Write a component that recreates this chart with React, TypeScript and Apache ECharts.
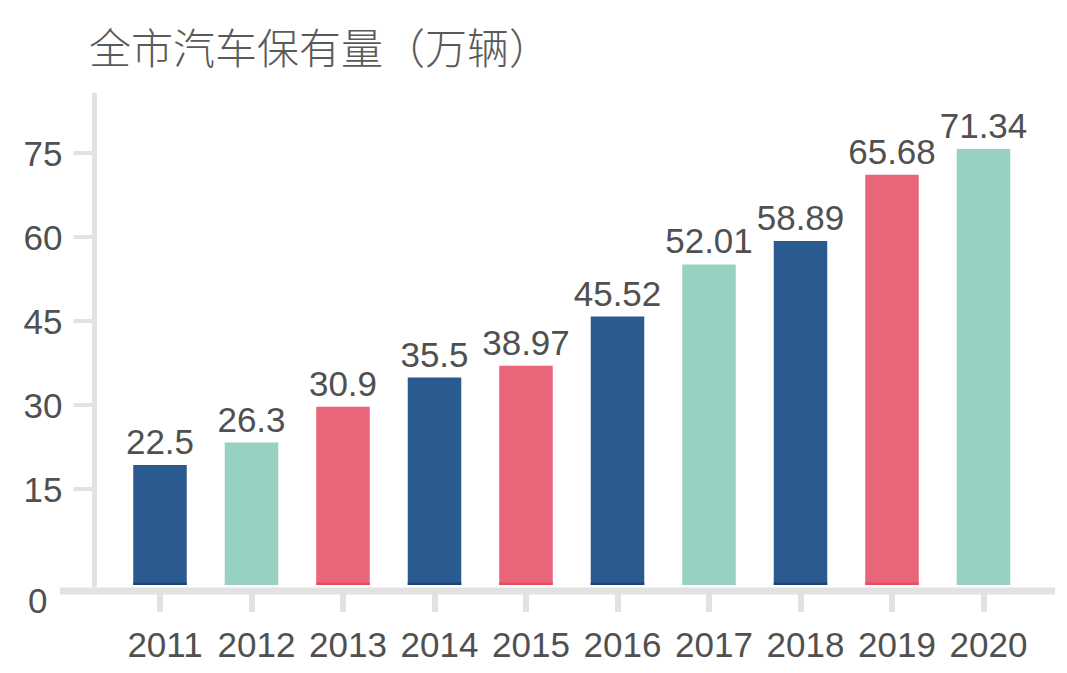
import React, { useEffect, useRef } from "react";
import * as echarts from "echarts";

const title = "全市汽车保有量（万辆）";
const years = ["2011", "2012", "2013", "2014", "2015", "2016", "2017", "2018", "2019", "2020"];
// bar heights as drawn against the axis
const barHeights = [19.3, 23.3, 29.7, 34.9, 37.0, 45.8, 55.1, 59.3, 71.1, 75.7];
// values printed above the bars
const printedValues = ["22.5", "26.3", "30.9", "35.5", "38.97", "45.52", "52.01", "58.89", "65.68", "71.34"];
const barColors = ["#2a5a8f", "#98d1c2", "#e9657a", "#2a5a8f", "#e9657a", "#2a5a8f", "#98d1c2", "#2a5a8f", "#e9657a", "#98d1c2"];
const barEdgeColors = ["#1f4476", "#98d1c2", "#e84a60", "#1f4476", "#e84a60", "#1f4476", "#98d1c2", "#1f4476", "#e84a60", "#98d1c2"];
const yTicks = [15, 30, 45, 60, 75];
const yMin = -2.14;
const yMax = 85.36;

export default function App() {
  const ref = useRef<HTMLDivElement>(null);
  useEffect(() => {
    if (!ref.current) return;
    const chart = echarts.init(ref.current, null, { renderer: "svg" });
    const axisGray = "#e2e2e2";
    const textGray = "#505050";
    const barW = 53.5;
    chart.setOption({
      animation: false,
      backgroundColor: "#ffffff",
      title: {
        text: title,
        left: 84,
        top: 19,
        textStyle: {
          fontFamily: "Noto Sans CJK SC",
          fontSize: 42,
          fontWeight: 300,
          color: "#5a5a5a",
        },
      },
      grid: { left: 114.25, right: 37.75, top: 95, bottom: 88 },
      xAxis: {
        type: "category",
        data: years,
        offset: 6,
        axisLine: { show: false, onZero: false },
        axisTick: {
          show: true,
          alignWithLabel: true,
          length: 21,
          lineStyle: { color: axisGray, width: 6 },
        },
        axisLabel: {
          interval: 0,
          margin: 36,
          fontFamily: "Liberation Sans",
          fontSize: 35,
          color: textGray,
          padding: [0, 0, 0, 10],
        },
      },
      yAxis: {
        type: "value",
        min: yMin,
        max: yMax,
        offset: 19.75,
        splitLine: { show: false },
        axisLine: { show: true, lineStyle: { color: axisGray, width: 5 } },
        axisTick: {
          show: true,
          length: 21,
          customValues: yTicks,
          lineStyle: { color: axisGray, width: 4 },
        },
        axisLabel: {
          margin: 32,
          customValues: [yMin, ...yTicks],
          fontFamily: "Liberation Sans",
          fontSize: 35,
          color: textGray,
          formatter: (v: number) => (v < 0 ? "{zero|0}" : String(v)),
          rich: {
            zero: {
              fontFamily: "Liberation Sans",
              fontSize: 35,
              color: textGray,
              padding: [30, 15, 0, 0],
            },
          },
        },
      },
      graphic: [
        {
          type: "line",
          z: 0,
          shape: { x1: 60, y1: 591, x2: 1055, y2: 591 },
          style: { stroke: axisGray, lineWidth: 7 },
        },
      ],
      series: [
        {
          type: "custom",
          z: 3,
          encode: { x: 0, y: 1 },
          data: barHeights.map((v, i) => [i, v]),
          renderItem: (params: any, api: any) => {
            const idx = api.value(0);
            const top = api.coord([idx, api.value(1)]);
            const base = api.coord([idx, yMin]);
            const h = base[1] - top[1];
            return {
              type: "group",
              children: [
                {
                  type: "rect",
                  shape: { x: top[0] - barW / 2, y: top[1], width: barW, height: h },
                  style: { fill: barColors[idx] },
                },
                {
                  type: "rect",
                  shape: { x: top[0] - barW / 2, y: base[1] - 2.5, width: barW, height: 2.5 },
                  style: { fill: barEdgeColors[idx] },
                },
                {
                  type: "text",
                  x: top[0],
                  y: top[1] - 6,
                  style: {
                    text: printedValues[idx],
                    fontFamily: "Liberation Sans",
                    fontSize: 35,
                    fill: textGray,
                    align: "center",
                    verticalAlign: "bottom",
                  },
                },
              ],
            };
          },
        },
      ],
    });
    return () => chart.dispose();
  }, []);
  return <div ref={ref} style={{ width: 1067, height: 673, position: "absolute", left: 0, top: 0 }} />;
}
